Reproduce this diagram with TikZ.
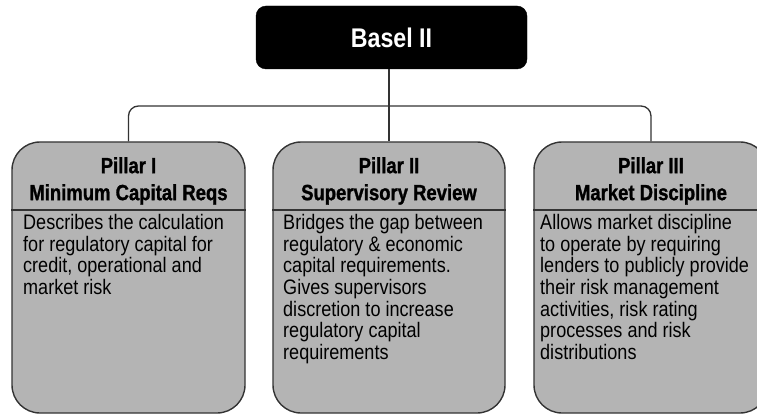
\documentclass[tikz,border=0pt]{standalone}
\usepackage{fontspec}
\setmainfont{Liberation Sans}[FakeStretch=0.86]
\newfontfamily\headfont{Liberation Sans}[FakeStretch=0.84,BoldFeatures={FakeBold=1.2}]
\definecolor{pillarfill}{HTML}{B4B4B4}
\definecolor{edge}{HTML}{333333}
\begin{document}
\begin{tikzpicture}[x=1pt,y=-1pt,
  topbox/.style={fill=black, draw=black, rounded corners=10pt, minimum width=271pt, minimum height=63pt, inner sep=0pt, text=white, font=\bfseries\fontsize{27}{29}\selectfont},
  pillarbox/.style={fill=pillarfill, draw=edge, line width=1.4pt, rounded corners=28pt, minimum height=271pt, inner sep=0pt},
  headtext/.style={anchor=north, align=center, inner sep=0pt, font=\headfont\bfseries\fontsize{22}{27}\selectfont},
  bodytext/.style={anchor=north west, align=left, inner sep=0pt, font=\fontsize{21}{21.7}\selectfont},
  conn/.style={draw=edge, line width=1.3pt, rounded corners=10pt},
  divider/.style={draw=edge, line width=1.3pt}]
\useasboundingbox (0,0) rectangle (757,414);
\clip (0,0) rectangle (757,414);
% top box
\node[topbox] (basel) at (391.5,37.5) {Basel II};
% pillars
\node[pillarbox, minimum width=233pt] (p1) at (128.5,277.5) {};
\node[pillarbox, minimum width=232pt] (p2) at (389,277.5) {};
\node[pillarbox, minimum width=234pt] (p3) at (651,277.5) {};
% dividers
\draw[divider] (p1.west |- 0,210) -- (p1.east |- 0,210);
\draw[divider] (p2.west |- 0,210) -- (p2.east |- 0,210);
\draw[divider] (p3.west |- 0,210) -- (p3.east |- 0,210);
% connectors
\coordinate (hub) at (389,106);
\draw[conn] (basel.south -| p2.north) -- (p2.north);
\draw[conn] (p1.north) -- (p1.north |- hub) -- (p3.north |- hub) -- (p3.north);
% headings
\node[headtext] (h1) at (128.5,157) {Pillar I\\Minimum Capital Reqs};
\node[headtext] (h2) at (389,157) {Pillar II\\Supervisory Review};
\node[headtext] (h3) at (651,157) {Pillar III\\Market Discipline};
% bodies
\node[bodytext] (b1) at (23,214) {Describes the calculation\\for regulatory capital for\\credit, operational and\\market risk};
\node[bodytext] (b2) at (283,214) {Bridges the gap between\\regulatory \& economic\\capital requirements.\\Gives supervisors\\discretion to increase\\regulatory capital\\requirements};
\node[bodytext] (b3) at (540,214) {Allows market discipline\\to operate by requiring\\lenders to publicly provide\\their risk management\\activities, risk rating\\processes and risk\\distributions};
\end{tikzpicture}
\end{document}
